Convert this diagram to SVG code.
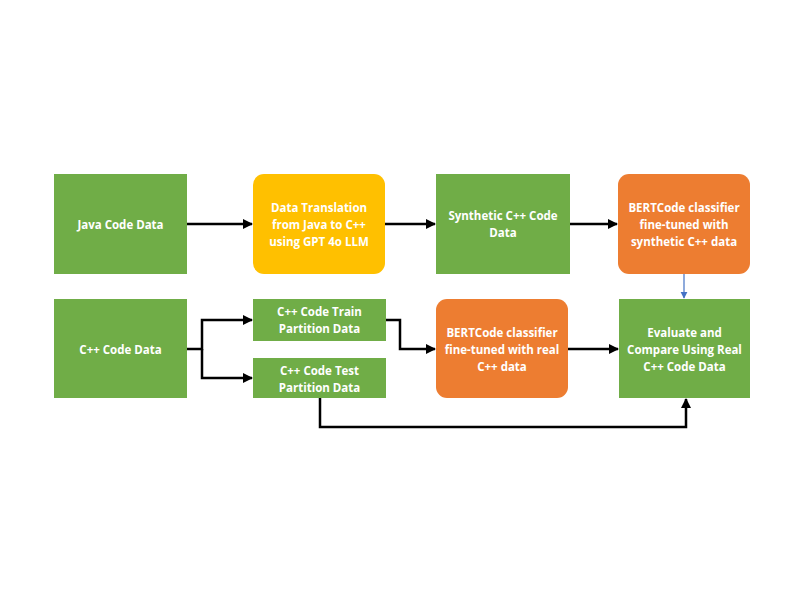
<svg xmlns="http://www.w3.org/2000/svg" width="800" height="600" viewBox="0 0 800 600">
<defs>
<style>
.g{fill:#70AD47}
.y{fill:#FFC000}
.o{fill:#ED7D31}
text{font-family:"Open Sans","Liberation Sans",sans-serif;font-weight:bold;font-size:11.5px;fill:#ffffff;text-anchor:middle;dominant-baseline:central}
.c{fill:none;stroke:#000;stroke-width:2.5}
.b{fill:none;stroke:#4472C4;stroke-width:1.2}
</style>
<marker id="ah" viewBox="0 0 10 10" refX="9" refY="5" markerWidth="4" markerHeight="4" orient="auto" markerUnits="strokeWidth"><path d="M0,0L10,5L0,10z" fill="#000"/></marker>
<marker id="bh" viewBox="0 0 10 10" refX="9" refY="5" markerWidth="6" markerHeight="6" orient="auto" markerUnits="strokeWidth"><path d="M0,0L10,5L0,10z" fill="#4472C4"/></marker>
</defs>
<rect width="800" height="600" fill="#fff"/>
<g id="java"><rect class="g" x="54" y="174" width="133" height="100"/><text x="120.5" y="224">Java Code Data</text></g>
<g id="translation"><rect class="y" x="253" y="174" width="132" height="100" rx="11"/><text x="319" y="207">Data Translation</text><text x="319" y="224">from Java to C++</text><text x="319" y="241">using GPT 4o LLM</text></g>
<g id="synthetic"><rect class="g" x="436" y="174" width="134" height="100"/><text x="503" y="215.5">Synthetic C++ Code</text><text x="503" y="232.5">Data</text></g>
<g id="bert-synth"><rect class="o" x="618" y="174" width="132" height="100" rx="11"/><text x="684" y="207">BERTCode classifier</text><text x="684" y="224">fine-tuned with</text><text x="684" y="241">synthetic C++ data</text></g>
<g id="cpp"><rect class="g" x="54" y="299" width="133" height="99"/><text x="120.5" y="349">C++ Code Data</text></g>
<g id="train"><rect class="g" x="253" y="299" width="133" height="42"/><text x="319.5" y="311.5">C++ Code Train</text><text x="319.5" y="328.5">Partition Data</text></g>
<g id="test"><rect class="g" x="253" y="358" width="133" height="40"/><text x="319.5" y="370">C++ Code Test</text><text x="319.5" y="387">Partition Data</text></g>
<g id="bert-real"><rect class="o" x="436" y="299" width="132" height="99" rx="11"/><text x="502" y="332">BERTCode classifier</text><text x="502" y="349">fine-tuned with real</text><text x="502" y="366">C++ data</text></g>
<g id="evaluate"><rect class="g" x="619" y="299" width="131" height="99"/><text x="684.5" y="332">Evaluate and</text><text x="684.5" y="349">Compare Using Real</text><text x="684.5" y="366">C++ Code Data</text></g>
<g id="connectors">
<path class="c" d="M187,224H252" marker-end="url(#ah)"/>
<path class="c" d="M385,224H435" marker-end="url(#ah)"/>
<path class="c" d="M570,224H617" marker-end="url(#ah)"/>
<path class="b" d="M684,274V298" marker-end="url(#bh)"/>
<path class="c" d="M187,349H202V320H252" marker-end="url(#ah)"/>
<path class="c" d="M202,349V378H252" marker-end="url(#ah)"/>
<path class="c" d="M386,320H400V349H435" marker-end="url(#ah)"/>
<path class="c" d="M568,349H618" marker-end="url(#ah)"/>
<path class="c" d="M320,398V427H686V399" marker-end="url(#ah)"/>
</g>
</svg>
